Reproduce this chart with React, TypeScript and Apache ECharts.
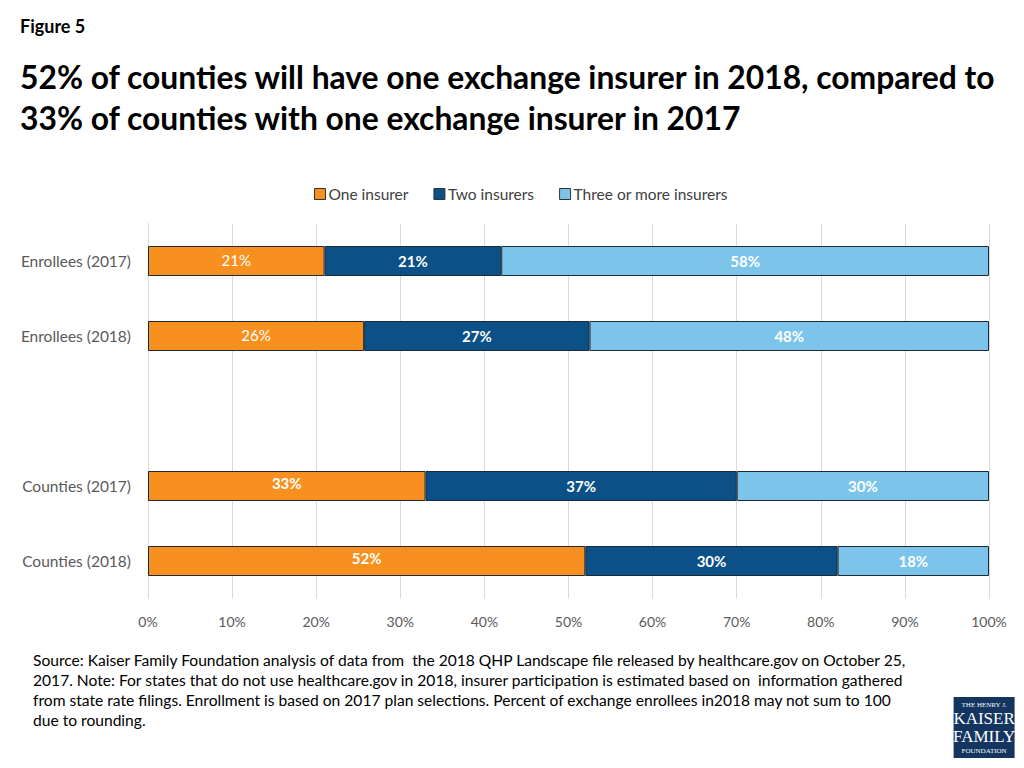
import React, { useEffect, useRef } from "react";
import * as echarts from "echarts";

const categories = ["Enrollees (2017)", "Enrollees (2018)", "", "Counties (2017)", "Counties (2018)"];
const seriesNames = ["One insurer", "Two insurers", "Three or more insurers"];
const oneInsurer: (number | null)[] = [21, 25.7, null, 33, 52];
const twoInsurers: (number | null)[] = [21, 26.8, null, 37, 30];
const threeOrMore: (number | null)[] = [58, 47.5, null, 30, 18];
const xTicks = [0, 10, 20, 30, 40, 50, 60, 70, 80, 90, 100];
const colors = ["#F7901E", "#0B5086", "#7CC4EA"];
const oneInsurerBold = [false, false, false, true, true];

const footerLines = [
  "Source: Kaiser Family Foundation analysis of data from  the 2018 QHP Landscape file released by healthcare.gov on October 25,",
  "2017. Note: For states that do not use healthcare.gov in 2018, insurer participation is estimated based on  information gathered",
  "from state rate filings. Enrollment is based on 2017 plan selections. Percent of exchange enrollees in2018 may not sum to 100",
  "due to rounding.",
];

const FONT = "Lato, 'Open Sans', sans-serif";

export default function App() {
  const ref = useRef<HTMLDivElement>(null);
  useEffect(() => {
    if (!ref.current) return;
    const chart = echarts.init(ref.current, null, { renderer: "svg" });
    const fmt = (p: any) => (p.value == null ? "" : Math.round(p.value) + "%");
    const mk = (name: string, vals: (number | null)[], idx: number) => ({
      name,
      type: "bar",
      stack: "total",
      barWidth: "40%",
      data: vals.map((v, i) => ({
        value: v,
        label:
          idx === 0
            ? {
                fontWeight: oneInsurerBold[i] ? "bold" : "normal",
                offset: oneInsurerBold[i] ? [0, -3] : [0, -1],
              }
            : undefined,
      })),
      itemStyle: { color: colors[idx], borderColor: "#1d2a36", borderWidth: 1 },
      label: {
        show: true,
        position: "inside",
        formatter: fmt,
        color: "#ffffff",
        fontFamily: FONT,
        fontSize: 15,
        fontWeight: "bold",
      },
    });
    chart.setOption({
      animation: false,
      backgroundColor: "#ffffff",
      textStyle: { fontFamily: FONT },
      legend: {
        top: 181,
        left: 309,
        icon: "rect",
        itemWidth: 11,
        itemHeight: 11,
        itemGap: 25,
        data: seriesNames.map((n, i) => ({
          name: n,
          itemStyle: { color: colors[i], borderColor: "#333", borderWidth: 1 },
        })),
        textStyle: { fontFamily: FONT, fontSize: 15.5, color: "#404040", padding: [0, 0, 0, -2] },
      },
      grid: { left: 148, right: 35, top: 223.5, bottom: 169.5, containLabel: false },
      xAxis: {
        type: "value",
        min: 0,
        max: 100,
        interval: 10,
        axisLabel: {
          formatter: (v: number) => (xTicks.includes(v) ? v + "%" : ""),
          color: "#595959",
          fontSize: 14,
          fontFamily: FONT,
          margin: 16,
        },
        splitLine: { show: true, lineStyle: { color: "#d9d9d9", width: 1 } },
        axisLine: { show: false },
        axisTick: { show: false },
      },
      yAxis: {
        type: "category",
        inverse: true,
        data: categories,
        axisLabel: { color: "#595959", fontSize: 15.5, fontFamily: FONT, margin: 17 },
        axisLine: { show: true, lineStyle: { color: "#d9d9d9" } },
        axisTick: { show: false },
      },
      series: [mk(seriesNames[0], oneInsurer, 0), mk(seriesNames[1], twoInsurers, 1), mk(seriesNames[2], threeOrMore, 2)],
      graphic: [
        {
          type: "text",
          left: 20,
          top: 17,
          style: { text: "Figure 5", fontFamily: FONT, fontSize: 18, fontWeight: "bold", fill: "#000" },
        },
        {
          type: "text",
          left: 20,
          top: 56,
          style: {
            text: "52% of counties will have one exchange insurer in 2018, compared to\n33% of counties with one exchange insurer in 2017",
            fontFamily: FONT,
            fontSize: 31.8,
            fontWeight: "bold",
            lineHeight: 41,
            fill: "#000",
          },
        },
        {
          type: "text",
          left: 33,
          top: 650,
          style: {
            text: footerLines.join("\n"),
            fontFamily: FONT,
            fontSize: 15.6,
            lineHeight: 20,
            fill: "#000",
          },
        },
        {
          type: "group",
          left: 953,
          top: 697,
          children: [
            { type: "rect", shape: { x: 0, y: 0, width: 61, height: 61 }, style: { fill: "#13355f" } },
            { type: "text", x: 30.5, y: 4, style: { text: "THE HENRY J.", fontFamily: "Liberation Serif, serif", fontSize: 7, fill: "#fff", align: "center" } },
            { type: "text", x: 30.5, y: 13, style: { text: "KAISER", fontFamily: "Liberation Serif, serif", fontSize: 17, fill: "#fff", align: "center" } },
            { type: "text", x: 30.5, y: 31, style: { text: "FAMILY", fontFamily: "Liberation Serif, serif", fontSize: 17, fill: "#fff", align: "center" } },
            { type: "text", x: 30.5, y: 50, style: { text: "FOUNDATION", fontFamily: "Liberation Serif, serif", fontSize: 7, fill: "#fff", align: "center" } },
          ],
        },
      ],
    });
    return () => chart.dispose();
  }, []);
  return <div ref={ref} style={{ position: "fixed", left: 0, top: 0, width: 1024, height: 768 }} />;
}
